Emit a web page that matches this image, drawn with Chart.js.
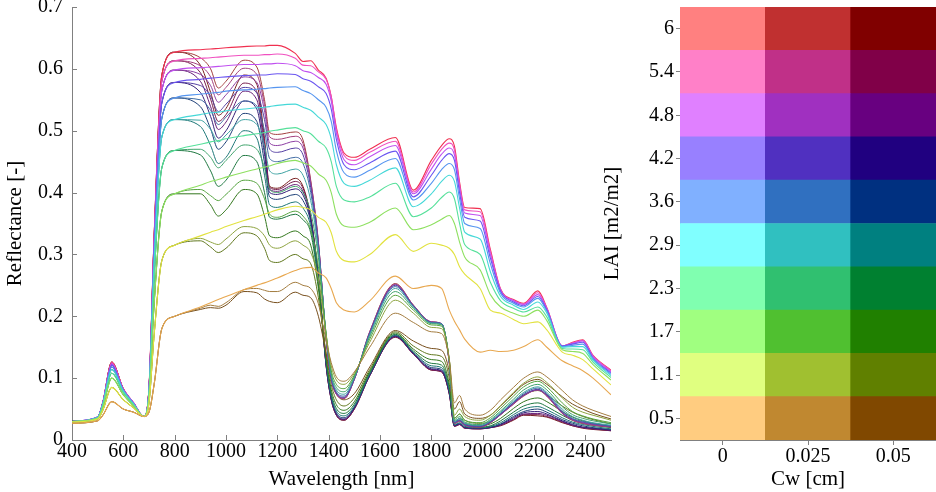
<!DOCTYPE html>
<html>
<head>
<meta charset="utf-8">
<script src="https://cdn.jsdelivr.net/npm/chart.js@4.4.0/dist/chart.umd.min.js"></script>
<style>
  html, body { margin: 0; padding: 0; background: #fff; }
  #wrap { position: relative; width: 936px; height: 492px; overflow: hidden; }
  #spec { position: absolute; left: 0; top: 0; width: 625px; height: 492px; }
  #grid { position: absolute; left: 600px; top: 0; width: 336px; height: 492px; }
</style>
</head>
<body>
<div id="wrap">
  <canvas id="spec" width="625" height="492"></canvas>
  <canvas id="grid" width="336" height="492"></canvas>
</div>
<script>
// wavelengths (nm): visible part, then NIR/SWIR part
const visWl  = [400, 500, 520, 555, 600, 640, 680, 700, 720, 750];
const restWl = [800, 900, 940, 970, 1000, 1070, 1120, 1150, 1170, 1200,
                1270, 1300, 1330, 1360, 1390, 1410, 1430, 1460, 1500, 1560,
                1660, 1730, 1800, 1840, 1870, 1890, 1910, 1930, 1990, 2030,
                2070, 2120, 2160, 2215, 2250, 2310, 2350, 2390, 2430, 2500];

const laiLabels = ['0.5', '1.1', '1.7', '2.3', '2.9', '3.6', '4.2', '4.8', '5.4', '6'];
const cwLabels  = ['0', '0.025', '0.05'];
const xTicks = [400, 600, 800, 1000, 1200, 1400, 1600, 1800, 2000, 2200, 2400];
const yTicks = [0, 0.1, 0.2, 0.3, 0.4, 0.5, 0.6, 0.7];

// visible band, per LAI (same for every Cw)
const vis05 = [0.027, 0.031, 0.040, 0.062, 0.050, 0.045, 0.038, 0.045, 0.090, 0.180];
const vis11 = [0.029, 0.034, 0.048, 0.085, 0.065, 0.052, 0.038, 0.060, 0.170, 0.290];
const vis17 = [0.030, 0.035, 0.053, 0.100, 0.073, 0.055, 0.038, 0.070, 0.220, 0.370];
const vis23 = [0.030, 0.036, 0.056, 0.108, 0.077, 0.057, 0.038, 0.075, 0.260, 0.440];
const vis29 = [0.030, 0.036, 0.058, 0.114, 0.079, 0.058, 0.038, 0.078, 0.285, 0.490];
const vis36 = [0.030, 0.037, 0.059, 0.118, 0.080, 0.059, 0.038, 0.080, 0.300, 0.520];
const vis42 = [0.030, 0.037, 0.060, 0.121, 0.081, 0.059, 0.038, 0.082, 0.310, 0.545];
const vis48 = [0.030, 0.037, 0.060, 0.123, 0.082, 0.060, 0.038, 0.083, 0.320, 0.565];
const vis54 = [0.030, 0.037, 0.060, 0.125, 0.082, 0.060, 0.038, 0.084, 0.325, 0.580];
const vis60 = [0.030, 0.037, 0.061, 0.126, 0.083, 0.060, 0.038, 0.085, 0.330, 0.590];

// Cw = 0
const a05 = [0.200, 0.215, 0.222, 0.227, 0.232, 0.243, 0.250, 0.254, 0.257, 0.262, 0.274, 0.278, 0.279, 0.270, 0.262, 0.245, 0.222, 0.210, 0.207, 0.225,
             0.265, 0.245, 0.250, 0.245, 0.210, 0.192, 0.178, 0.163, 0.142, 0.145, 0.143, 0.145, 0.151, 0.162, 0.150, 0.128, 0.120, 0.112, 0.100, 0.073];
const a11 = [0.315, 0.330, 0.336, 0.340, 0.345, 0.355, 0.361, 0.365, 0.368, 0.372, 0.378, 0.376, 0.372, 0.360, 0.352, 0.335, 0.305, 0.290, 0.288, 0.300,
             0.332, 0.305, 0.318, 0.315, 0.310, 0.300, 0.280, 0.268, 0.245, 0.210, 0.205, 0.195, 0.188, 0.191, 0.178, 0.142, 0.137, 0.130, 0.115, 0.089];
const a17 = [0.398, 0.412, 0.418, 0.421, 0.425, 0.433, 0.438, 0.441, 0.443, 0.447, 0.452, 0.448, 0.443, 0.430, 0.420, 0.400, 0.365, 0.346, 0.344, 0.352,
             0.375, 0.340, 0.348, 0.357, 0.363, 0.350, 0.320, 0.296, 0.275, 0.235, 0.215, 0.205, 0.200, 0.210, 0.193, 0.146, 0.143, 0.140, 0.122, 0.097];
const a23 = [0.468, 0.478, 0.482, 0.484, 0.487, 0.492, 0.495, 0.497, 0.499, 0.501, 0.505, 0.500, 0.495, 0.483, 0.472, 0.450, 0.410, 0.388, 0.385, 0.393,
             0.415, 0.361, 0.375, 0.392, 0.401, 0.390, 0.350, 0.316, 0.300, 0.255, 0.225, 0.213, 0.207, 0.215, 0.199, 0.148, 0.147, 0.146, 0.126, 0.101];
const a29 = [0.518, 0.526, 0.529, 0.530, 0.532, 0.535, 0.537, 0.538, 0.539, 0.541, 0.543, 0.538, 0.533, 0.522, 0.510, 0.487, 0.445, 0.415, 0.410, 0.420,
             0.440, 0.377, 0.398, 0.418, 0.428, 0.418, 0.375, 0.336, 0.325, 0.272, 0.232, 0.218, 0.211, 0.223, 0.205, 0.150, 0.151, 0.151, 0.129, 0.104];
const a36 = [0.553, 0.559, 0.561, 0.562, 0.564, 0.566, 0.567, 0.568, 0.569, 0.570, 0.571, 0.565, 0.560, 0.550, 0.538, 0.515, 0.468, 0.432, 0.425, 0.436,
             0.455, 0.388, 0.415, 0.437, 0.447, 0.437, 0.390, 0.350, 0.342, 0.285, 0.237, 0.221, 0.215, 0.229, 0.208, 0.151, 0.153, 0.155, 0.131, 0.106];
const a42 = [0.578, 0.583, 0.585, 0.586, 0.587, 0.589, 0.590, 0.590, 0.591, 0.592, 0.591, 0.584, 0.580, 0.571, 0.560, 0.535, 0.486, 0.445, 0.437, 0.448,
             0.467, 0.393, 0.428, 0.452, 0.463, 0.452, 0.400, 0.360, 0.354, 0.294, 0.240, 0.223, 0.217, 0.232, 0.210, 0.152, 0.155, 0.158, 0.133, 0.108];
const a48 = [0.598, 0.602, 0.603, 0.604, 0.605, 0.607, 0.607, 0.608, 0.608, 0.609, 0.605, 0.597, 0.594, 0.586, 0.575, 0.548, 0.496, 0.453, 0.445, 0.458,
             0.476, 0.398, 0.438, 0.462, 0.472, 0.461, 0.408, 0.367, 0.363, 0.300, 0.242, 0.225, 0.219, 0.235, 0.212, 0.152, 0.156, 0.160, 0.135, 0.110];
const a54 = [0.613, 0.617, 0.618, 0.619, 0.620, 0.622, 0.622, 0.623, 0.623, 0.624, 0.617, 0.606, 0.605, 0.595, 0.583, 0.555, 0.502, 0.460, 0.452, 0.465,
             0.483, 0.401, 0.446, 0.470, 0.480, 0.469, 0.413, 0.372, 0.369, 0.305, 0.243, 0.226, 0.220, 0.238, 0.213, 0.152, 0.157, 0.161, 0.136, 0.112];
const a60 = [0.627, 0.631, 0.632, 0.633, 0.634, 0.636, 0.637, 0.637, 0.638, 0.638, 0.625, 0.612, 0.613, 0.598, 0.585, 0.555, 0.505, 0.464, 0.457, 0.470,
             0.489, 0.404, 0.452, 0.476, 0.487, 0.475, 0.417, 0.376, 0.374, 0.308, 0.244, 0.227, 0.221, 0.241, 0.214, 0.152, 0.158, 0.162, 0.137, 0.113];

// Cw = 0.025
const b05 = [0.200, 0.213, 0.218, 0.216, 0.222, 0.243, 0.245, 0.242, 0.240, 0.240, 0.255, 0.250, 0.245, 0.220, 0.160, 0.125, 0.102, 0.095, 0.110, 0.150,
             0.205, 0.190, 0.175, 0.172, 0.130, 0.060, 0.072, 0.050, 0.040, 0.048, 0.065, 0.085, 0.100, 0.110, 0.102, 0.080, 0.065, 0.055, 0.048, 0.038];
const b11 = [0.315, 0.326, 0.320, 0.316, 0.325, 0.345, 0.342, 0.330, 0.315, 0.310, 0.322, 0.315, 0.303, 0.260, 0.170, 0.120, 0.097, 0.090, 0.108, 0.158,
             0.226, 0.205, 0.182, 0.180, 0.130, 0.040, 0.050, 0.038, 0.032, 0.040, 0.056, 0.077, 0.092, 0.102, 0.093, 0.068, 0.053, 0.045, 0.040, 0.032];
const b17 = [0.398, 0.405, 0.395, 0.387, 0.397, 0.420, 0.415, 0.390, 0.365, 0.360, 0.370, 0.362, 0.340, 0.280, 0.172, 0.113, 0.090, 0.083, 0.105, 0.163,
             0.234, 0.210, 0.186, 0.184, 0.130, 0.035, 0.042, 0.032, 0.028, 0.036, 0.051, 0.071, 0.086, 0.095, 0.086, 0.060, 0.046, 0.039, 0.034, 0.028];
const b23 = [0.468, 0.470, 0.457, 0.440, 0.452, 0.477, 0.470, 0.440, 0.405, 0.400, 0.410, 0.400, 0.368, 0.295, 0.172, 0.108, 0.085, 0.078, 0.103, 0.167,
             0.240, 0.213, 0.188, 0.186, 0.128, 0.032, 0.038, 0.029, 0.025, 0.033, 0.047, 0.066, 0.081, 0.090, 0.081, 0.054, 0.041, 0.035, 0.031, 0.026];
const b29 = [0.518, 0.517, 0.502, 0.482, 0.493, 0.518, 0.510, 0.475, 0.435, 0.430, 0.438, 0.428, 0.387, 0.305, 0.170, 0.105, 0.081, 0.074, 0.101, 0.170,
             0.245, 0.215, 0.189, 0.187, 0.127, 0.030, 0.035, 0.027, 0.024, 0.031, 0.045, 0.063, 0.077, 0.086, 0.077, 0.050, 0.038, 0.032, 0.028, 0.024];
const b36 = [0.553, 0.550, 0.533, 0.510, 0.522, 0.548, 0.540, 0.500, 0.455, 0.450, 0.457, 0.447, 0.400, 0.310, 0.168, 0.102, 0.078, 0.071, 0.100, 0.172,
             0.248, 0.216, 0.190, 0.188, 0.126, 0.029, 0.033, 0.026, 0.023, 0.030, 0.043, 0.061, 0.075, 0.084, 0.075, 0.047, 0.035, 0.030, 0.027, 0.023];
const b42 = [0.578, 0.573, 0.556, 0.531, 0.543, 0.570, 0.561, 0.518, 0.470, 0.465, 0.472, 0.461, 0.408, 0.315, 0.166, 0.100, 0.076, 0.069, 0.099, 0.173,
             0.250, 0.217, 0.190, 0.188, 0.125, 0.028, 0.032, 0.025, 0.022, 0.029, 0.042, 0.060, 0.073, 0.082, 0.073, 0.045, 0.034, 0.029, 0.026, 0.022];
const b48 = [0.598, 0.591, 0.573, 0.546, 0.558, 0.587, 0.578, 0.532, 0.480, 0.476, 0.483, 0.472, 0.414, 0.318, 0.165, 0.099, 0.075, 0.068, 0.098, 0.174,
             0.251, 0.217, 0.191, 0.188, 0.125, 0.028, 0.031, 0.024, 0.022, 0.029, 0.041, 0.059, 0.072, 0.081, 0.072, 0.044, 0.033, 0.028, 0.025, 0.022];
const b54 = [0.613, 0.605, 0.587, 0.558, 0.570, 0.601, 0.591, 0.542, 0.490, 0.486, 0.491, 0.479, 0.418, 0.320, 0.164, 0.098, 0.074, 0.067, 0.098, 0.175,
             0.252, 0.218, 0.191, 0.188, 0.124, 0.027, 0.031, 0.024, 0.021, 0.028, 0.041, 0.058, 0.072, 0.081, 0.071, 0.043, 0.032, 0.027, 0.024, 0.021];
const b60 = [0.627, 0.618, 0.600, 0.569, 0.580, 0.614, 0.603, 0.550, 0.497, 0.494, 0.498, 0.485, 0.420, 0.320, 0.163, 0.098, 0.074, 0.067, 0.098, 0.175,
             0.253, 0.218, 0.191, 0.188, 0.124, 0.027, 0.030, 0.024, 0.021, 0.028, 0.041, 0.058, 0.071, 0.081, 0.071, 0.043, 0.032, 0.027, 0.024, 0.021];

// Cw = 0.05
const c05 = [0.200, 0.211, 0.214, 0.213, 0.218, 0.240, 0.238, 0.228, 0.224, 0.222, 0.239, 0.234, 0.230, 0.200, 0.140, 0.100, 0.075, 0.065, 0.075, 0.118,
             0.177, 0.160, 0.148, 0.145, 0.110, 0.050, 0.062, 0.042, 0.035, 0.040, 0.055, 0.075, 0.090, 0.098, 0.090, 0.070, 0.058, 0.050, 0.043, 0.034];
const c11 = [0.315, 0.322, 0.312, 0.303, 0.310, 0.335, 0.330, 0.310, 0.290, 0.287, 0.300, 0.293, 0.285, 0.230, 0.140, 0.090, 0.065, 0.055, 0.068, 0.114,
             0.175, 0.152, 0.138, 0.135, 0.100, 0.035, 0.042, 0.032, 0.027, 0.030, 0.042, 0.060, 0.073, 0.080, 0.073, 0.055, 0.045, 0.038, 0.033, 0.026];
const c17 = [0.398, 0.398, 0.380, 0.362, 0.372, 0.405, 0.398, 0.362, 0.330, 0.327, 0.338, 0.330, 0.315, 0.245, 0.135, 0.082, 0.057, 0.048, 0.062, 0.111,
             0.173, 0.147, 0.130, 0.127, 0.090, 0.030, 0.035, 0.027, 0.023, 0.026, 0.035, 0.051, 0.062, 0.068, 0.062, 0.046, 0.037, 0.031, 0.027, 0.022];
const c23 = [0.468, 0.461, 0.435, 0.410, 0.420, 0.460, 0.450, 0.400, 0.360, 0.357, 0.365, 0.356, 0.335, 0.252, 0.130, 0.076, 0.051, 0.043, 0.058, 0.109,
             0.171, 0.144, 0.124, 0.121, 0.085, 0.027, 0.031, 0.024, 0.021, 0.023, 0.031, 0.045, 0.055, 0.060, 0.054, 0.040, 0.032, 0.027, 0.024, 0.020];
const c29 = [0.518, 0.507, 0.476, 0.447, 0.457, 0.500, 0.488, 0.428, 0.380, 0.376, 0.385, 0.375, 0.345, 0.257, 0.127, 0.072, 0.047, 0.039, 0.055, 0.107,
             0.170, 0.142, 0.120, 0.117, 0.081, 0.025, 0.028, 0.022, 0.020, 0.022, 0.028, 0.041, 0.050, 0.054, 0.049, 0.036, 0.029, 0.025, 0.022, 0.018];
const c36 = [0.553, 0.539, 0.503, 0.470, 0.482, 0.528, 0.515, 0.448, 0.393, 0.389, 0.397, 0.387, 0.352, 0.260, 0.124, 0.069, 0.044, 0.036, 0.053, 0.106,
             0.169, 0.141, 0.117, 0.114, 0.078, 0.024, 0.027, 0.021, 0.019, 0.021, 0.026, 0.038, 0.046, 0.050, 0.045, 0.033, 0.027, 0.023, 0.020, 0.017];
const c42 = [0.578, 0.562, 0.523, 0.488, 0.500, 0.548, 0.535, 0.462, 0.400, 0.397, 0.406, 0.396, 0.356, 0.262, 0.122, 0.067, 0.042, 0.034, 0.052, 0.105,
             0.168, 0.140, 0.115, 0.112, 0.076, 0.023, 0.026, 0.020, 0.019, 0.020, 0.025, 0.036, 0.044, 0.046, 0.042, 0.031, 0.025, 0.021, 0.019, 0.016];
const c48 = [0.598, 0.580, 0.539, 0.502, 0.514, 0.564, 0.550, 0.472, 0.405, 0.402, 0.413, 0.402, 0.358, 0.263, 0.121, 0.066, 0.041, 0.033, 0.051, 0.104,
             0.167, 0.139, 0.114, 0.111, 0.075, 0.023, 0.025, 0.020, 0.018, 0.020, 0.024, 0.034, 0.042, 0.043, 0.040, 0.030, 0.024, 0.020, 0.018, 0.016];
const c54 = [0.613, 0.594, 0.551, 0.515, 0.526, 0.577, 0.563, 0.480, 0.408, 0.405, 0.418, 0.407, 0.359, 0.264, 0.120, 0.065, 0.040, 0.032, 0.050, 0.104,
             0.167, 0.139, 0.113, 0.110, 0.074, 0.022, 0.025, 0.019, 0.018, 0.020, 0.024, 0.033, 0.041, 0.041, 0.038, 0.029, 0.023, 0.020, 0.018, 0.015];
const c60 = [0.627, 0.606, 0.562, 0.525, 0.536, 0.590, 0.575, 0.487, 0.410, 0.407, 0.423, 0.410, 0.360, 0.265, 0.120, 0.065, 0.040, 0.032, 0.050, 0.104,
             0.166, 0.139, 0.113, 0.110, 0.074, 0.022, 0.025, 0.019, 0.018, 0.020, 0.023, 0.032, 0.040, 0.039, 0.037, 0.028, 0.023, 0.019, 0.017, 0.015];

// legend grid colours (rows = LAI 0.5 .. 6, cols = Cw)
const cellCw0   = ['#ffcc80', '#e0ff80', '#a0ff80', '#80ffb0', '#80ffff', '#80b0ff', '#9880ff', '#e080ff', '#ff80c8', '#ff8080'];
const cellCw025 = ['#c08830', '#a0c030', '#50c030', '#30c070', '#30c0c0', '#3070c0', '#5030c0', '#a030c0', '#c03088', '#c03030'];
const cellCw05  = ['#804800', '#608000', '#208000', '#008030', '#008080', '#003080', '#200080', '#680080', '#800048', '#800000'];
// line colours: Cw = 0 a bit stronger than the cells, wetter ones a bit greyer
const lineCw0   = ['#e8a850', '#e2e240', '#8ee060', '#55e09a', '#45d8d8', '#5595f0', '#6a55f0', '#c050f0', '#f050c0', '#f03050'];
const lineCw025 = ['#a37c3f', '#8da33f', '#55a33f', '#3fa36b', '#3fa3a3', '#3f6ba3', '#553fa3', '#8d3fa3', '#a33f7c', '#a33f3f'];
const lineCw05  = ['#774f1d', '#60771d', '#33771d', '#1d773f', '#1d7777', '#1d3f77', '#331d77', '#661d77', '#771d4f', '#771d1d'];
const cellSpan  = [1, 1, 1];

const visBand = [vis05, vis11, vis17, vis23, vis29, vis36, vis42, vis48, vis54, vis60];
const cw0Set   = [a05, a11, a17, a23, a29, a36, a42, a48, a54, a60];
const cw025Set = [b05, b11, b17, b23, b29, b36, b42, b48, b54, b60];
const cw05Set  = [c05, c11, c17, c23, c29, c36, c42, c48, c54, c60];

const serif = "'Liberation Serif', 'Times New Roman', serif";
const tickFont = { family: serif, size: 20 };
const titleFont = { family: serif, size: 21 };
const axisGrey = '#808080';

const allWl = visWl.concat(restWl);
function makeSet(set, colors, width){
  return set.map((rest, i) => {
    const ys = visBand[i].concat(rest);
    return {
      label: laiLabels[i],
      data: allWl.map((w, k) => ({ x: w, y: ys[k] })),
      borderColor: colors[i],
      borderWidth: width,
      pointRadius: 0,
      fill: false,
      cubicInterpolationMode: 'monotone'
    };
  });
}

const specSets = []
  .concat(makeSet(cw0Set, lineCw0, 1.1))
  .concat(makeSet(cw025Set, lineCw025, 1))
  .concat(makeSet(cw05Set, lineCw05, 1));

// ticks point into the plot on the spectra panel
const inwardTicks = {
  id: 'inwardTicks',
  afterDraw(chart){
    const { ctx, scales: { x, y }, chartArea: a } = chart;
    ctx.save();
    ctx.strokeStyle = axisGrey;
    ctx.lineWidth = 1;
    ctx.beginPath();
    xTicks.forEach(v => { const px = Math.round(x.getPixelForValue(v)) + 0.5; ctx.moveTo(px, a.bottom); ctx.lineTo(px, a.bottom - 5); });
    yTicks.forEach(v => { const py = Math.round(y.getPixelForValue(v)) + 0.5; ctx.moveTo(a.left, py); ctx.lineTo(a.left + 5, py); });
    ctx.stroke();
    ctx.restore();
  }
};

function fixX(h){ return s => { s.height = h; s.paddingLeft = 0; s.paddingRight = 0; }; }
function fixY(w){ return s => { s.width = w; s.paddingTop = 0; s.paddingBottom = 0; }; }

new Chart(document.getElementById('spec'), {
  type: 'line',
  data: { datasets: specSets },
  plugins: [inwardTicks],
  options: {
    responsive: false,
    animation: false,
    layout: { padding: { top: 7, right: 14, left: 0, bottom: 0 } },
    plugins: { legend: { display: false }, tooltip: { enabled: false } },
    scales: {
      x: {
        type: 'linear', min: 400, max: 2500,
        afterBuildTicks: s => { s.ticks = xTicks.map(v => ({ value: v })); },
        afterFit: fixX(52),
        grid: { drawOnChartArea: false, drawTicks: false },
        border: { color: axisGrey },
        ticks: { font: tickFont, color: '#000', padding: 0, maxRotation: 0, autoSkip: false, callback: v => String(v) },
        title: { display: true, text: 'Wavelength [nm]', font: titleFont, color: '#000', padding: { top: 0, bottom: 0 } }
      },
      y: {
        type: 'linear', min: 0, max: 0.7,
        afterBuildTicks: s => { s.ticks = yTicks.map(v => ({ value: v })); },
        afterFit: fixY(72),
        grid: { drawOnChartArea: false, drawTicks: false },
        border: { color: axisGrey },
        ticks: { font: tickFont, color: '#000', padding: 9, callback: v => v === 0 ? '0' : v.toFixed(1) },
        title: { display: true, text: 'Reflectance [-]', font: titleFont, color: '#000', padding: { top: 3, bottom: 0 } }
      }
    }
  }
});

new Chart(document.getElementById('grid'), {
  type: 'bar',
  data: {
    labels: cwLabels,
    datasets: laiLabels.map((l, i) => ({
      label: l,
      data: cellSpan,
      backgroundColor: [cellCw0[i], cellCw025[i], cellCw05[i]],
      borderWidth: 0,
      barPercentage: 1,
      categoryPercentage: 1
    }))
  },
  options: {
    responsive: false,
    animation: false,
    layout: { padding: { top: 7, right: 0, left: 0, bottom: 0 } },
    plugins: { legend: { display: false }, tooltip: { enabled: false } },
    scales: {
      x: {
        stacked: true,
        afterFit: fixX(52),
        grid: { offset: false, drawOnChartArea: false, drawTicks: true, tickLength: 5, color: axisGrey },
        border: { color: axisGrey },
        ticks: { font: tickFont, color: '#000', padding: 0, maxRotation: 0 },
        title: { display: true, text: 'Cw [cm]', font: titleFont, color: '#000', padding: { top: 0, bottom: 0 } }
      },
      y: {
        stacked: true, min: 0, max: 10,
        afterBuildTicks: s => { s.ticks = laiLabels.map((l, i) => ({ value: i + 0.5 })); },
        afterFit: fixY(80),
        grid: { drawOnChartArea: false, drawTicks: true, tickLength: 4, color: axisGrey },
        border: { color: axisGrey },
        ticks: { font: tickFont, color: '#000', padding: 2, callback: (v, i) => laiLabels[i] },
        title: { display: true, text: 'LAI [m2/m2]', font: titleFont, color: '#000', padding: { top: 0, bottom: 0 } }
      }
    }
  }
});
</script>
</body>
</html>
